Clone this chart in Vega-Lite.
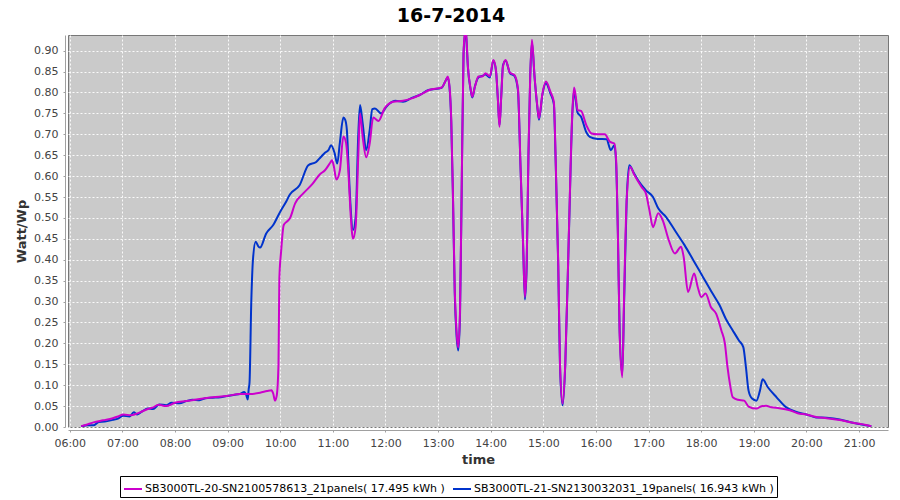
{
  "$schema": "https://vega.github.io/schema/vega-lite/v6.json",
  "width": 820,
  "height": 392,
  "autosize": {"type": "none"},
  "padding": {"left": 68, "top": 35, "right": 12, "bottom": 73},
  "background": "white",
  "title": {"text": "16-7-2014", "font": "DejaVu Sans", "fontSize": 19, "fontWeight": "bold", "color": "#000000", "anchor": "middle", "dx": -27, "offset": 9},
  "data": {"values": [
    {"s":"M","t":"2014-07-16 06:13","v":0.002},{"s":"M","t":"2014-07-16 06:20","v":0.006},{"s":"M","t":"2014-07-16 06:27","v":0.011},{"s":"M","t":"2014-07-16 06:38","v":0.016},{"s":"M","t":"2014-07-16 06:49","v":0.021},{"s":"M","t":"2014-07-16 06:55","v":0.025},{"s":"M","t":"2014-07-16 07:01","v":0.030},{"s":"M","t":"2014-07-16 07:10","v":0.028},{"s":"M","t":"2014-07-16 07:20","v":0.035},{"s":"M","t":"2014-07-16 07:29","v":0.043},{"s":"M","t":"2014-07-16 07:35","v":0.047},{"s":"M","t":"2014-07-16 07:41","v":0.053},{"s":"M","t":"2014-07-16 07:50","v":0.050},{"s":"M","t":"2014-07-16 08:00","v":0.058},{"s":"M","t":"2014-07-16 08:13","v":0.062},{"s":"M","t":"2014-07-16 08:28","v":0.067},{"s":"M","t":"2014-07-16 08:43","v":0.071},{"s":"M","t":"2014-07-16 08:59","v":0.074},{"s":"M","t":"2014-07-16 09:14","v":0.079},{"s":"M","t":"2014-07-16 09:25","v":0.079},{"s":"M","t":"2014-07-16 09:37","v":0.082},{"s":"M","t":"2014-07-16 09:45","v":0.086},{"s":"M","t":"2014-07-16 09:50","v":0.088},{"s":"M","t":"2014-07-16 09:52","v":0.080},{"s":"M","t":"2014-07-16 09:54","v":0.063},{"s":"M","t":"2014-07-16 09:56","v":0.075},{"s":"M","t":"2014-07-16 09:58","v":0.150},{"s":"M","t":"2014-07-16 09:59","v":0.355},{"s":"M","t":"2014-07-16 10:01","v":0.420},{"s":"M","t":"2014-07-16 10:04","v":0.483},{"s":"M","t":"2014-07-16 10:08","v":0.492},{"s":"M","t":"2014-07-16 10:11","v":0.499},{"s":"M","t":"2014-07-16 10:17","v":0.535},{"s":"M","t":"2014-07-16 10:26","v":0.558},{"s":"M","t":"2014-07-16 10:37","v":0.582},{"s":"M","t":"2014-07-16 10:45","v":0.604},{"s":"M","t":"2014-07-16 10:51","v":0.614},{"s":"M","t":"2014-07-16 10:57","v":0.632},{"s":"M","t":"2014-07-16 10:59","v":0.638},{"s":"M","t":"2014-07-16 11:01","v":0.625},{"s":"M","t":"2014-07-16 11:04","v":0.592},{"s":"M","t":"2014-07-16 11:08","v":0.614},{"s":"M","t":"2014-07-16 11:12","v":0.695},{"s":"M","t":"2014-07-16 11:15","v":0.680},{"s":"M","t":"2014-07-16 11:18","v":0.600},{"s":"M","t":"2014-07-16 11:20","v":0.518},{"s":"M","t":"2014-07-16 11:23","v":0.450},{"s":"M","t":"2014-07-16 11:26","v":0.479},{"s":"M","t":"2014-07-16 11:29","v":0.650},{"s":"M","t":"2014-07-16 11:31","v":0.750},{"s":"M","t":"2014-07-16 11:34","v":0.694},{"s":"M","t":"2014-07-16 11:38","v":0.645},{"s":"M","t":"2014-07-16 11:42","v":0.678},{"s":"M","t":"2014-07-16 11:46","v":0.740},{"s":"M","t":"2014-07-16 11:52","v":0.732},{"s":"M","t":"2014-07-16 11:59","v":0.762},{"s":"M","t":"2014-07-16 12:09","v":0.778},{"s":"M","t":"2014-07-16 12:20","v":0.780},{"s":"M","t":"2014-07-16 12:30","v":0.786},{"s":"M","t":"2014-07-16 12:39","v":0.794},{"s":"M","t":"2014-07-16 12:50","v":0.806},{"s":"M","t":"2014-07-16 13:04","v":0.812},{"s":"M","t":"2014-07-16 13:09","v":0.830},{"s":"M","t":"2014-07-16 13:11","v":0.838},{"s":"M","t":"2014-07-16 13:13","v":0.815},{"s":"M","t":"2014-07-16 13:15","v":0.734},{"s":"M","t":"2014-07-16 13:17","v":0.550},{"s":"M","t":"2014-07-16 13:19","v":0.327},{"s":"M","t":"2014-07-16 13:21","v":0.230},{"s":"M","t":"2014-07-16 13:23","v":0.190},{"s":"M","t":"2014-07-16 13:25","v":0.279},{"s":"M","t":"2014-07-16 13:27","v":0.590},{"s":"M","t":"2014-07-16 13:29","v":0.894},{"s":"M","t":"2014-07-16 13:31","v":0.950},{"s":"M","t":"2014-07-16 13:32","v":0.940},{"s":"M","t":"2014-07-16 13:34","v":0.862},{"s":"M","t":"2014-07-16 13:37","v":0.810},{"s":"M","t":"2014-07-16 13:39","v":0.790},{"s":"M","t":"2014-07-16 13:42","v":0.814},{"s":"M","t":"2014-07-16 13:46","v":0.838},{"s":"M","t":"2014-07-16 13:51","v":0.839},{"s":"M","t":"2014-07-16 13:54","v":0.846},{"s":"M","t":"2014-07-16 13:59","v":0.839},{"s":"M","t":"2014-07-16 14:03","v":0.878},{"s":"M","t":"2014-07-16 14:06","v":0.854},{"s":"M","t":"2014-07-16 14:08","v":0.790},{"s":"M","t":"2014-07-16 14:10","v":0.718},{"s":"M","t":"2014-07-16 14:12","v":0.790},{"s":"M","t":"2014-07-16 14:14","v":0.862},{"s":"M","t":"2014-07-16 14:17","v":0.878},{"s":"M","t":"2014-07-16 14:22","v":0.847},{"s":"M","t":"2014-07-16 14:27","v":0.842},{"s":"M","t":"2014-07-16 14:31","v":0.810},{"s":"M","t":"2014-07-16 14:34","v":0.622},{"s":"M","t":"2014-07-16 14:37","v":0.431},{"s":"M","t":"2014-07-16 14:39","v":0.311},{"s":"M","t":"2014-07-16 14:41","v":0.391},{"s":"M","t":"2014-07-16 14:43","v":0.650},{"s":"M","t":"2014-07-16 14:45","v":0.838},{"s":"M","t":"2014-07-16 14:47","v":0.926},{"s":"M","t":"2014-07-16 14:50","v":0.838},{"s":"M","t":"2014-07-16 14:53","v":0.770},{"s":"M","t":"2014-07-16 14:55","v":0.738},{"s":"M","t":"2014-07-16 14:59","v":0.798},{"s":"M","t":"2014-07-16 15:03","v":0.826},{"s":"M","t":"2014-07-16 15:08","v":0.802},{"s":"M","t":"2014-07-16 15:12","v":0.778},{"s":"M","t":"2014-07-16 15:14","v":0.646},{"s":"M","t":"2014-07-16 15:17","v":0.391},{"s":"M","t":"2014-07-16 15:19","v":0.151},{"s":"M","t":"2014-07-16 15:22","v":0.056},{"s":"M","t":"2014-07-16 15:25","v":0.151},{"s":"M","t":"2014-07-16 15:29","v":0.455},{"s":"M","t":"2014-07-16 15:33","v":0.750},{"s":"M","t":"2014-07-16 15:35","v":0.812},{"s":"M","t":"2014-07-16 15:37","v":0.790},{"s":"M","t":"2014-07-16 15:39","v":0.758},{"s":"M","t":"2014-07-16 15:43","v":0.756},{"s":"M","t":"2014-07-16 15:49","v":0.722},{"s":"M","t":"2014-07-16 15:55","v":0.702},{"s":"M","t":"2014-07-16 16:02","v":0.700},{"s":"M","t":"2014-07-16 16:10","v":0.700},{"s":"M","t":"2014-07-16 16:16","v":0.682},{"s":"M","t":"2014-07-16 16:21","v":0.678},{"s":"M","t":"2014-07-16 16:23","v":0.638},{"s":"M","t":"2014-07-16 16:25","v":0.463},{"s":"M","t":"2014-07-16 16:27","v":0.223},{"s":"M","t":"2014-07-16 16:30","v":0.119},{"s":"M","t":"2014-07-16 16:32","v":0.303},{"s":"M","t":"2014-07-16 16:35","v":0.542},{"s":"M","t":"2014-07-16 16:39","v":0.622},{"s":"M","t":"2014-07-16 16:44","v":0.602},{"s":"M","t":"2014-07-16 16:52","v":0.574},{"s":"M","t":"2014-07-16 16:57","v":0.558},{"s":"M","t":"2014-07-16 17:01","v":0.518},{"s":"M","t":"2014-07-16 17:05","v":0.478},{"s":"M","t":"2014-07-16 17:11","v":0.511},{"s":"M","t":"2014-07-16 17:16","v":0.495},{"s":"M","t":"2014-07-16 17:23","v":0.447},{"s":"M","t":"2014-07-16 17:30","v":0.415},{"s":"M","t":"2014-07-16 17:37","v":0.431},{"s":"M","t":"2014-07-16 17:40","v":0.407},{"s":"M","t":"2014-07-16 17:45","v":0.323},{"s":"M","t":"2014-07-16 17:52","v":0.367},{"s":"M","t":"2014-07-16 17:56","v":0.335},{"s":"M","t":"2014-07-16 18:00","v":0.311},{"s":"M","t":"2014-07-16 18:05","v":0.319},{"s":"M","t":"2014-07-16 18:11","v":0.287},{"s":"M","t":"2014-07-16 18:17","v":0.271},{"s":"M","t":"2014-07-16 18:23","v":0.231},{"s":"M","t":"2014-07-16 18:27","v":0.200},{"s":"M","t":"2014-07-16 18:30","v":0.143},{"s":"M","t":"2014-07-16 18:33","v":0.100},{"s":"M","t":"2014-07-16 18:36","v":0.071},{"s":"M","t":"2014-07-16 18:42","v":0.065},{"s":"M","t":"2014-07-16 18:49","v":0.063},{"s":"M","t":"2014-07-16 18:54","v":0.049},{"s":"M","t":"2014-07-16 19:03","v":0.044},{"s":"M","t":"2014-07-16 19:08","v":0.049},{"s":"M","t":"2014-07-16 19:14","v":0.051},{"s":"M","t":"2014-07-16 19:20","v":0.047},{"s":"M","t":"2014-07-16 19:29","v":0.045},{"s":"M","t":"2014-07-16 19:41","v":0.040},{"s":"M","t":"2014-07-16 19:50","v":0.033},{"s":"M","t":"2014-07-16 20:00","v":0.030},{"s":"M","t":"2014-07-16 20:11","v":0.024},{"s":"M","t":"2014-07-16 20:23","v":0.021},{"s":"M","t":"2014-07-16 20:38","v":0.017},{"s":"M","t":"2014-07-16 20:53","v":0.010},{"s":"M","t":"2014-07-16 21:08","v":0.005},{"s":"M","t":"2014-07-16 21:14","v":0.002},
    {"s":"B","t":"2014-07-16 06:13","v":0.001},{"s":"B","t":"2014-07-16 06:20","v":0.004},{"s":"B","t":"2014-07-16 06:27","v":0.004},{"s":"B","t":"2014-07-16 06:33","v":0.012},{"s":"B","t":"2014-07-16 06:40","v":0.013},{"s":"B","t":"2014-07-16 06:49","v":0.017},{"s":"B","t":"2014-07-16 06:55","v":0.020},{"s":"B","t":"2014-07-16 07:01","v":0.027},{"s":"B","t":"2014-07-16 07:08","v":0.025},{"s":"B","t":"2014-07-16 07:13","v":0.035},{"s":"B","t":"2014-07-16 07:17","v":0.030},{"s":"B","t":"2014-07-16 07:23","v":0.038},{"s":"B","t":"2014-07-16 07:29","v":0.044},{"s":"B","t":"2014-07-16 07:35","v":0.043},{"s":"B","t":"2014-07-16 07:42","v":0.054},{"s":"B","t":"2014-07-16 07:50","v":0.052},{"s":"B","t":"2014-07-16 07:56","v":0.058},{"s":"B","t":"2014-07-16 08:05","v":0.057},{"s":"B","t":"2014-07-16 08:13","v":0.062},{"s":"B","t":"2014-07-16 08:20","v":0.065},{"s":"B","t":"2014-07-16 08:28","v":0.064},{"s":"B","t":"2014-07-16 08:35","v":0.069},{"s":"B","t":"2014-07-16 08:43","v":0.070},{"s":"B","t":"2014-07-16 08:52","v":0.071},{"s":"B","t":"2014-07-16 08:59","v":0.074},{"s":"B","t":"2014-07-16 09:08","v":0.077},{"s":"B","t":"2014-07-16 09:14","v":0.079},{"s":"B","t":"2014-07-16 09:19","v":0.084},{"s":"B","t":"2014-07-16 09:21","v":0.078},{"s":"B","t":"2014-07-16 09:23","v":0.066},{"s":"B","t":"2014-07-16 09:24","v":0.090},{"s":"B","t":"2014-07-16 09:25","v":0.107},{"s":"B","t":"2014-07-16 09:27","v":0.300},{"s":"B","t":"2014-07-16 09:29","v":0.403},{"s":"B","t":"2014-07-16 09:32","v":0.443},{"s":"B","t":"2014-07-16 09:35","v":0.432},{"s":"B","t":"2014-07-16 09:37","v":0.429},{"s":"B","t":"2014-07-16 09:44","v":0.463},{"s":"B","t":"2014-07-16 09:52","v":0.483},{"s":"B","t":"2014-07-16 10:00","v":0.515},{"s":"B","t":"2014-07-16 10:07","v":0.540},{"s":"B","t":"2014-07-16 10:11","v":0.556},{"s":"B","t":"2014-07-16 10:22","v":0.578},{"s":"B","t":"2014-07-16 10:32","v":0.626},{"s":"B","t":"2014-07-16 10:41","v":0.634},{"s":"B","t":"2014-07-16 10:46","v":0.645},{"s":"B","t":"2014-07-16 10:51","v":0.656},{"s":"B","t":"2014-07-16 10:55","v":0.662},{"s":"B","t":"2014-07-16 10:58","v":0.674},{"s":"B","t":"2014-07-16 11:02","v":0.655},{"s":"B","t":"2014-07-16 11:05","v":0.630},{"s":"B","t":"2014-07-16 11:08","v":0.680},{"s":"B","t":"2014-07-16 11:12","v":0.740},{"s":"B","t":"2014-07-16 11:14","v":0.735},{"s":"B","t":"2014-07-16 11:16","v":0.710},{"s":"B","t":"2014-07-16 11:18","v":0.620},{"s":"B","t":"2014-07-16 11:20","v":0.535},{"s":"B","t":"2014-07-16 11:23","v":0.471},{"s":"B","t":"2014-07-16 11:26","v":0.502},{"s":"B","t":"2014-07-16 11:29","v":0.700},{"s":"B","t":"2014-07-16 11:31","v":0.770},{"s":"B","t":"2014-07-16 11:34","v":0.726},{"s":"B","t":"2014-07-16 11:38","v":0.662},{"s":"B","t":"2014-07-16 11:42","v":0.710},{"s":"B","t":"2014-07-16 11:45","v":0.760},{"s":"B","t":"2014-07-16 11:48","v":0.762},{"s":"B","t":"2014-07-16 11:55","v":0.750},{"s":"B","t":"2014-07-16 12:01","v":0.766},{"s":"B","t":"2014-07-16 12:11","v":0.780},{"s":"B","t":"2014-07-16 12:20","v":0.778},{"s":"B","t":"2014-07-16 12:30","v":0.787},{"s":"B","t":"2014-07-16 12:39","v":0.794},{"s":"B","t":"2014-07-16 12:49","v":0.806},{"s":"B","t":"2014-07-16 13:04","v":0.811},{"s":"B","t":"2014-07-16 13:09","v":0.830},{"s":"B","t":"2014-07-16 13:11","v":0.836},{"s":"B","t":"2014-07-16 13:13","v":0.812},{"s":"B","t":"2014-07-16 13:15","v":0.730},{"s":"B","t":"2014-07-16 13:17","v":0.545},{"s":"B","t":"2014-07-16 13:19","v":0.320},{"s":"B","t":"2014-07-16 13:21","v":0.220},{"s":"B","t":"2014-07-16 13:23","v":0.183},{"s":"B","t":"2014-07-16 13:25","v":0.270},{"s":"B","t":"2014-07-16 13:27","v":0.585},{"s":"B","t":"2014-07-16 13:29","v":0.890},{"s":"B","t":"2014-07-16 13:31","v":0.945},{"s":"B","t":"2014-07-16 13:32","v":0.935},{"s":"B","t":"2014-07-16 13:34","v":0.860},{"s":"B","t":"2014-07-16 13:37","v":0.808},{"s":"B","t":"2014-07-16 13:39","v":0.788},{"s":"B","t":"2014-07-16 13:42","v":0.815},{"s":"B","t":"2014-07-16 13:46","v":0.836},{"s":"B","t":"2014-07-16 13:51","v":0.840},{"s":"B","t":"2014-07-16 13:54","v":0.843},{"s":"B","t":"2014-07-16 13:59","v":0.836},{"s":"B","t":"2014-07-16 14:03","v":0.876},{"s":"B","t":"2014-07-16 14:06","v":0.852},{"s":"B","t":"2014-07-16 14:08","v":0.790},{"s":"B","t":"2014-07-16 14:10","v":0.722},{"s":"B","t":"2014-07-16 14:12","v":0.792},{"s":"B","t":"2014-07-16 14:14","v":0.865},{"s":"B","t":"2014-07-16 14:17","v":0.876},{"s":"B","t":"2014-07-16 14:22","v":0.846},{"s":"B","t":"2014-07-16 14:27","v":0.840},{"s":"B","t":"2014-07-16 14:31","v":0.806},{"s":"B","t":"2014-07-16 14:34","v":0.620},{"s":"B","t":"2014-07-16 14:37","v":0.430},{"s":"B","t":"2014-07-16 14:39","v":0.305},{"s":"B","t":"2014-07-16 14:41","v":0.385},{"s":"B","t":"2014-07-16 14:43","v":0.645},{"s":"B","t":"2014-07-16 14:45","v":0.835},{"s":"B","t":"2014-07-16 14:47","v":0.920},{"s":"B","t":"2014-07-16 14:50","v":0.836},{"s":"B","t":"2014-07-16 14:53","v":0.768},{"s":"B","t":"2014-07-16 14:55","v":0.735},{"s":"B","t":"2014-07-16 14:59","v":0.796},{"s":"B","t":"2014-07-16 15:03","v":0.822},{"s":"B","t":"2014-07-16 15:08","v":0.798},{"s":"B","t":"2014-07-16 15:12","v":0.772},{"s":"B","t":"2014-07-16 15:14","v":0.640},{"s":"B","t":"2014-07-16 15:17","v":0.385},{"s":"B","t":"2014-07-16 15:19","v":0.145},{"s":"B","t":"2014-07-16 15:22","v":0.052},{"s":"B","t":"2014-07-16 15:25","v":0.148},{"s":"B","t":"2014-07-16 15:29","v":0.450},{"s":"B","t":"2014-07-16 15:33","v":0.745},{"s":"B","t":"2014-07-16 15:35","v":0.805},{"s":"B","t":"2014-07-16 15:37","v":0.780},{"s":"B","t":"2014-07-16 15:39","v":0.752},{"s":"B","t":"2014-07-16 15:43","v":0.742},{"s":"B","t":"2014-07-16 15:49","v":0.705},{"s":"B","t":"2014-07-16 15:53","v":0.694},{"s":"B","t":"2014-07-16 16:02","v":0.689},{"s":"B","t":"2014-07-16 16:12","v":0.688},{"s":"B","t":"2014-07-16 16:17","v":0.662},{"s":"B","t":"2014-07-16 16:21","v":0.674},{"s":"B","t":"2014-07-16 16:23","v":0.630},{"s":"B","t":"2014-07-16 16:25","v":0.463},{"s":"B","t":"2014-07-16 16:27","v":0.230},{"s":"B","t":"2014-07-16 16:30","v":0.125},{"s":"B","t":"2014-07-16 16:32","v":0.290},{"s":"B","t":"2014-07-16 16:35","v":0.540},{"s":"B","t":"2014-07-16 16:38","v":0.626},{"s":"B","t":"2014-07-16 16:43","v":0.608},{"s":"B","t":"2014-07-16 16:48","v":0.590},{"s":"B","t":"2014-07-16 16:57","v":0.566},{"s":"B","t":"2014-07-16 17:05","v":0.550},{"s":"B","t":"2014-07-16 17:11","v":0.523},{"s":"B","t":"2014-07-16 17:20","v":0.502},{"s":"B","t":"2014-07-16 17:31","v":0.467},{"s":"B","t":"2014-07-16 17:41","v":0.435},{"s":"B","t":"2014-07-16 17:51","v":0.399},{"s":"B","t":"2014-07-16 18:02","v":0.359},{"s":"B","t":"2014-07-16 18:13","v":0.319},{"s":"B","t":"2014-07-16 18:21","v":0.291},{"s":"B","t":"2014-07-16 18:28","v":0.259},{"s":"B","t":"2014-07-16 18:36","v":0.231},{"s":"B","t":"2014-07-16 18:43","v":0.207},{"s":"B","t":"2014-07-16 18:48","v":0.191},{"s":"B","t":"2014-07-16 18:51","v":0.143},{"s":"B","t":"2014-07-16 18:54","v":0.087},{"s":"B","t":"2014-07-16 18:58","v":0.068},{"s":"B","t":"2014-07-16 19:03","v":0.063},{"s":"B","t":"2014-07-16 19:07","v":0.087},{"s":"B","t":"2014-07-16 19:10","v":0.114},{"s":"B","t":"2014-07-16 19:16","v":0.095},{"s":"B","t":"2014-07-16 19:26","v":0.071},{"s":"B","t":"2014-07-16 19:37","v":0.047},{"s":"B","t":"2014-07-16 19:47","v":0.037},{"s":"B","t":"2014-07-16 20:00","v":0.030},{"s":"B","t":"2014-07-16 20:11","v":0.023},{"s":"B","t":"2014-07-16 20:23","v":0.022},{"s":"B","t":"2014-07-16 20:38","v":0.018},{"s":"B","t":"2014-07-16 20:53","v":0.010},{"s":"B","t":"2014-07-16 21:08","v":0.004},{"s":"B","t":"2014-07-16 21:14","v":0.002}
  ]},
  "encoding": {
    "x": {
      "field": "t", "type": "temporal",
      "scale": {"domain": [{"year": 2014, "month": 7, "date": 16, "hours": 5, "minutes": 58}, {"year": 2014, "month": 7, "date": 16, "hours": 21, "minutes": 33}], "nice": false},
      "axis": {"title": "time", "format": "%H:%M", "offset": 3, "labelPadding": 5, "titlePadding": 5}
    },
    "y": {
      "field": "v", "type": "quantitative",
      "scale": {"domain": [0, 0.9375], "nice": false},
      "axis": {"title": "Watt/Wp", "format": ".2f", "values": [0, 0.05, 0.1, 0.15, 0.2, 0.25, 0.3, 0.35, 0.4, 0.45, 0.5, 0.55, 0.6, 0.65, 0.7, 0.75, 0.8, 0.85, 0.9], "offset": 3, "labelPadding": 5, "titlePadding": 5}
    },
    "color": {
      "field": "s", "type": "nominal",
      "scale": {"domain": ["M", "B"], "range": ["#CC00CC", "#0033CC"]},
      "legend": {"title": null, "orient": "none", "legendX": 52, "legendY": 441, "direction": "horizontal", "symbolType": "stroke", "symbolSize": 324, "symbolStrokeWidth": 2, "labelFont": "DejaVu Sans", "labelFontSize": 11, "labelColor": "#000000", "strokeColor": "#000000", "fillColor": "#FFFFFF", "padding": 3, "columnPadding": 4, "labelOffset": 2, "labelLimit": 400,
        "labelExpr": "datum.value == 'M' ? 'SB3000TL-20-SN2100578613_21panels( 17.495 kWh )' : 'SB3000TL-21-SN2130032031_19panels( 16.943 kWh )'"}
    }
  },
  "layer": [
    {"transform": [{"filter": {"field": "s", "equal": "B"}}], "mark": {"type": "line", "strokeWidth": 2, "clip": true, "interpolate": "monotone"}},
    {"transform": [{"filter": {"field": "s", "equal": "M"}}], "mark": {"type": "line", "strokeWidth": 2, "clip": true, "interpolate": "monotone"}}
  ],
  "config": {
    "view": {"fill": "#CACACA", "stroke": "#777777", "strokeWidth": 1},
    "axis": {
      "labelFont": "DejaVu Sans", "labelFontSize": 11, "labelColor": "#444444",
      "titleFont": "DejaVu Sans", "titleFontSize": 13, "titleFontWeight": "bold", "titleColor": "#333333",
      "domainColor": "#A0A0A0", "tickColor": "#A0A0A0", "tickSize": 2,
      "gridColor": "#FFFFFF", "gridDash": [2, 2], "gridWidth": 1, "gridOpacity": 0.9
    }
  }
}
